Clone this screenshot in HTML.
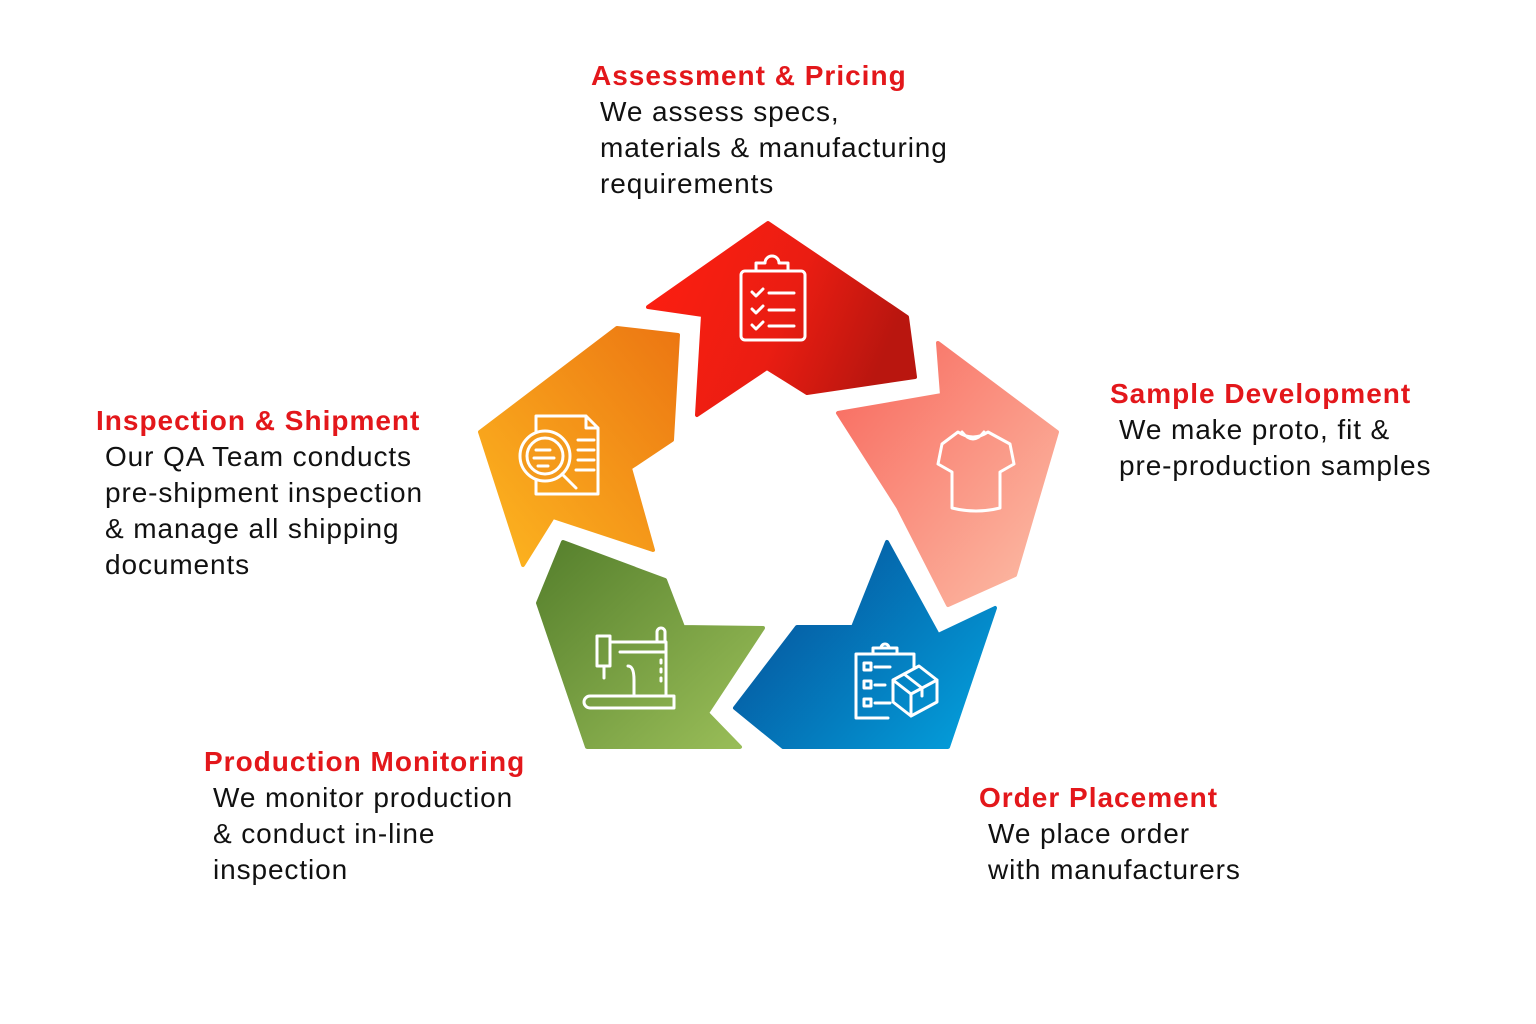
<!DOCTYPE html>
<html><head><meta charset="utf-8"><style>
html,body{margin:0;padding:0;background:#fff;}
body{width:1536px;height:1024px;position:relative;overflow:hidden;font-family:"Liberation Sans",Arial,sans-serif;}
.b{position:absolute;font-size:28px;letter-spacing:0.9px;line-height:36px;white-space:nowrap;color:#111;}
.t{color:#e3171b;font-weight:bold;letter-spacing:1px;}
.in{padding-left:9px;}
svg{position:absolute;left:0;top:0;}
</style></head><body>
<svg width="1536" height="1024" viewBox="0 0 1536 1024">
<defs>
<linearGradient id="gr" x1="0" y1="0" x2="1" y2="0.3"><stop offset="0" stop-color="#ff1f10"/><stop offset="0.6" stop-color="#ea1d12"/><stop offset="1" stop-color="#b9160f"/></linearGradient>
<linearGradient id="go" x1="0" y1="1" x2="1" y2="0"><stop offset="0" stop-color="#fdb720"/><stop offset="1" stop-color="#ec7612"/></linearGradient>
<linearGradient id="gp" x1="0" y1="0" x2="1" y2="1"><stop offset="0" stop-color="#f8675c"/><stop offset="1" stop-color="#fcbfa8"/></linearGradient>
<linearGradient id="gb" x1="0" y1="0.3" x2="1" y2="1"><stop offset="0" stop-color="#05539b"/><stop offset="1" stop-color="#04a3df"/></linearGradient>
<linearGradient id="gg" x1="0" y1="0" x2="1" y2="1"><stop offset="0" stop-color="#557f2c"/><stop offset="1" stop-color="#9cc05a"/></linearGradient>
</defs>
<g stroke-linejoin="round" stroke-width="8">
<polygon points="648,307 768,223 907,317 915,377 807,393 767,368 697,415 703,315" fill="url(#gr)" stroke="url(#gr)" stroke-width="4"/>
<polygon points="617,328 678,335 672,440 630,468 653,550 553,517 523,565 480,432" fill="url(#go)" stroke="url(#go)" stroke-width="4"/>
<polygon points="938,343 1057,432 1015,575 948,605 898,507 838,413 942,395" fill="url(#gp)" stroke="url(#gp)" stroke-width="4"/>
<polygon points="887,542 938,635 995,608 948,747 783,747 735,708 797,627 853,627" fill="url(#gb)" stroke="url(#gb)" stroke-width="4"/>
<polygon points="563,542 665,580 683,627 763,628 707,713 740,747 587,747 538,603" fill="url(#gg)" stroke="url(#gg)" stroke-width="4"/>
</g>
<g fill="none" stroke="#fff" stroke-width="3" stroke-linecap="round" stroke-linejoin="round">
<rect x="741" y="271" width="64" height="69" rx="4"/>
<path d="M756 271 v-8 h9 a7 7 0 0 1 14 0 h9 v8 z"/>
<path d="M752 292 l4 4 l7 -7 M752 309 l4 4 l7 -7 M752 325 l4 4 l7 -7 M769 293 h25 M769 310 h25 M769 326 h25"/>
<path d="M958 432 q15 10 30 0 l22 12 l4 20 l-14 8 v36 q-24 6 -48 0 v-36 l-14 -8 l4 -20 z M962 432 q11 14 22 0"/>
<path d="M536 416 h50 l12 12 v66 h-62 z M586 416 v12 h12"/>
<circle cx="545" cy="456" r="25" fill="#f49a1c"/><circle cx="545" cy="456" r="18"/>
<path d="M562 474 l14 14 M536 450 h14 M534 458 h20 M538 466 h10 M578 440 h16 M578 450 h16 M578 460 h16 M576 470 h18"/>
<path d="M597 636 h13 v30 h-13 z M610 642 h56 v53 M620 652 h46 M604 666 v12 M628 666 q6 0 6 14 v16 M590 696 h84 v12 h-84 a6 6 0 0 1 0 -12 M657 642 v-10 a4 4 0 0 1 8 0 v10 M661 660 v3 M661 669 v3 M661 678 v3"/>
<path d="M856 654 h58 v14 M856 654 v64 h32 M873 654 v-6 h24 v6 M881 648 a4 4 0 1 1 8 0 M864 663 h7 v7 h-7z M864 681 h7 v7 h-7z M864 699 h7 v7 h-7z M875 667 h15 M875 685 h10 M875 703 h15"/>
<path d="M893 680 l26 -14 l18 14 l-26 14 z M893 680 v22 l18 14 v-22 M911 716 l26 -14 v-22 M904 674 l18 14 v8"/>
</g>
</svg>
<div class="b" style="left:591px;top:58px;"><div class="t">Assessment &amp; Pricing</div><div class="in">We assess specs,<br>materials &amp; manufacturing<br>requirements</div></div>
<div class="b" style="left:1110px;top:376px;"><div class="t">Sample Development</div><div class="in">We make proto, fit &amp;<br>pre-production samples</div></div>
<div class="b" style="left:96px;top:403px;"><div class="t">Inspection &amp; Shipment</div><div class="in">Our QA Team conducts<br>pre-shipment inspection<br>&amp; manage all shipping<br>documents</div></div>
<div class="b" style="left:204px;top:744px;"><div class="t">Production Monitoring</div><div class="in">We monitor production<br>&amp; conduct in-line<br>inspection</div></div>
<div class="b" style="left:979px;top:780px;"><div class="t">Order Placement</div><div class="in">We place order<br>with manufacturers</div></div>
</body></html>
